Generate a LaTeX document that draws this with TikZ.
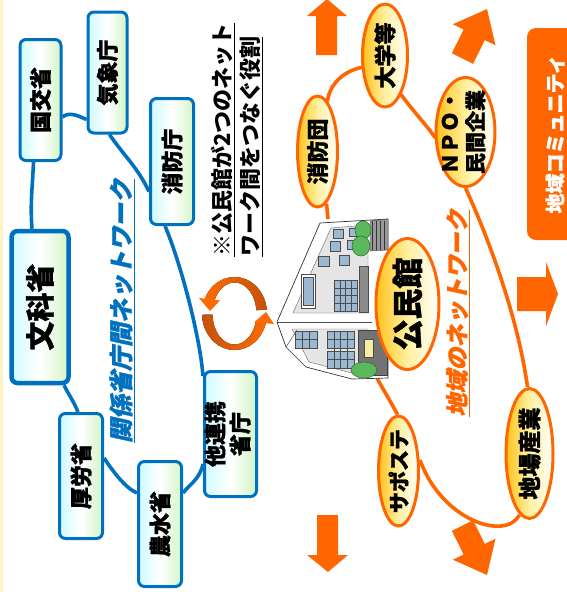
\documentclass[tikz,border=0pt]{standalone}
\usepackage{graphicx}
\usepackage{fontspec}
\usetikzlibrary{shapes.geometric,calc}
\newfontfamily\jp{Noto Sans CJK JP}[BoldFeatures={FakeBold=1.2}]
\newfontfamily\jpnote{Noto Sans CJK JP}
\newfontfamily\jpslant{Noto Sans CJK JP}[FakeSlant=0.22, BoldFeatures={FakeBold=1.2}]
\definecolor{netblue}{HTML}{0070C0}
\definecolor{netorange}{HTML}{FF6600}
\definecolor{boxcyan}{HTML}{CFFBFF}
\definecolor{boxgreen}{HTML}{D3F5C4}
\definecolor{ovgold}{HTML}{FFC21A}
\definecolor{ovpale}{HTML}{FFF0A0}
\definecolor{ringdark}{HTML}{C4520C}
\definecolor{ringbright}{HTML}{FF6A00}
\definecolor{winblue}{HTML}{9CB8D2}
\definecolor{treegreen}{HTML}{5CB85C}
\definecolor{treedark}{HTML}{2E6B2E}
\definecolor{doorpale}{HTML}{F4EFA0}
\definecolor{edgeyellow}{HTML}{FFF3C4}
\pgfdeclarelayer{paper}
\pgfdeclarelayer{links}
\pgfsetlayers{paper,links,main}
\newcommand{\vtxt}[1]{\rotatebox{90}{#1}}

\begin{document}
\begin{tikzpicture}[x=1pt,y=-1pt,
  ministry/.style={rectangle, rounded corners=6pt, draw=netblue, line width=3pt,
    left color=boxcyan, right color=boxgreen, middle color=white, inner sep=0pt,
    font=\jp\bfseries\fontsize{22}{27}\selectfont},
  local/.style={ellipse, draw=netorange, line width=3pt,
    left color=ovgold, right color=white, middle color=ovpale, inner sep=-14pt,
    font=\jp\bfseries\fontsize{22}{26}\selectfont},
  bluelink/.style={draw=netblue, line width=3.6pt},
  orangelink/.style={draw=netorange, line width=3.6pt},
  blockarrow/.style={fill=netorange},
  glass/.style={fill=winblue, draw=black!70, line width=0.4pt},
  panel/.style={fill=black!10, draw=black!60, line width=0.4pt},
  tree/.style={fill=treegreen, draw=treedark, line width=0.5pt},
]
\useasboundingbox (0,0) rectangle (567,592);
\begin{pgfonlayer}{paper}
\fill[white] (0,0) rectangle (567,592);
\fill[edgeyellow] (0,0) rectangle (2.5,592);
\end{pgfonlayer}

% ---------- ministries network ----------
\node[ministry, minimum width=57pt, minimum height=152pt, line width=4.5pt,
      font=\jp\bfseries\fontsize{29}{32}\selectfont] (mext) at (40,307) {\vtxt{文科省}};
\node[ministry, minimum width=41pt, minimum height=121pt] (mlit) at (40.5,100) {\vtxt{国交省}};
\node[ministry, minimum width=39pt, minimum height=121pt] (jma) at (107.5,72.5) {\vtxt{気象庁}};
\node[ministry, minimum width=43pt, minimum height=126pt] (fdma) at (172,161.5) {\vtxt{消防庁}};
\node[ministry, minimum width=52pt, minimum height=125pt] (others) at (230.5,434)
  {\vtxt{\begin{tabular}{@{}c@{}}他連携\\[-2pt]省庁\end{tabular}}};
\node[ministry, minimum width=43pt, minimum height=125pt] (maff) at (160,524) {\vtxt{農水省}};
\node[ministry, minimum width=43pt, minimum height=125pt] (mhlw) at (81,476) {\vtxt{厚労省}};

\node[inner sep=0pt, text=netblue, font=\jpslant\bfseries\fontsize{24}{26}\selectfont]
  (govnet) at (122,311) {\vtxt{\underline{関係省庁間ネットワーク}}};

% ---------- note ----------
\node[inner sep=0pt, font=\jpnote\bfseries\fontsize{22}{28}\selectfont] (note) at (238.5,140)
  {\vtxt{\begin{tabular}{@{}l@{}}\underline{※公民館が2つのネット}\\\underline{ワーク間をつなぐ役割}\end{tabular}}};

% ---------- circular arrows ----------
\fill[left color=ringbright, middle color=ringbright, right color=ringdark]
  plot[domain=6:157, samples=40] ({234.5+32.5*cos(\x)},{313.5-36.5*sin(\x)})
  -- plot[domain=157:6, samples=40] ({234.5+22*cos(\x)},{313.5-31*sin(\x)}) -- cycle;
\fill[ringbright] (199,298) -- (220,300.5) -- (210,311) -- cycle;
\fill[left color=ringdark, middle color=ringbright, right color=ringbright]
  plot[domain=182:345, samples=40] ({234.5+32.5*cos(\x)},{313.5-36.5*sin(\x)})
  -- plot[domain=345:182, samples=40] ({234.5+22*cos(\x)},{313.5-31*sin(\x)}) -- cycle;
\fill[ringbright] (254.5,322) -- (274,324) -- (266,312) -- cycle;

% ---------- community hall building ----------
\filldraw[fill=white, draw=black!80, line width=0.7pt, line join=round]
  (320,223) -- (388,219) -- (388,378) -- (352,379) -- (306,367) -- (286,347) -- (277,322) -- cycle;
\filldraw[panel] (331,228) -- (368,225) -- (368,313) -- (293,313) -- cycle;
\filldraw[panel] (292,329) -- (368,329) -- (368,372) -- (352,373) -- (309,362) -- cycle;
\draw[black!70, line width=0.5pt] (277,322) -- (372,322);
\draw[black!70, line width=0.5pt] (286,347) -- (297,330);
\foreach \x/\y/\w/\h in {333/229/10/9, 349/228/9/8, 330/241/10/10, 347/240/9/9,
                         318/256/11/10, 339/255/10/10}
  \filldraw[glass] (\x,\y) rectangle ++(\w,\h);
\filldraw[fill=white, draw=black!70, line width=0.4pt] (301,274) rectangle (315,308);
\filldraw[glass] (303,277) rectangle (313,305);
\filldraw[glass] (334,280) rectangle (357,311);
\foreach \k in {1,2,3} \draw[black!70, line width=0.4pt] ({334+5.75*\k},280) -- ({334+5.75*\k},311);
\foreach \k in {1,2,3} \draw[black!70, line width=0.4pt] (334,{280+7.75*\k}) -- (357,{280+7.75*\k});
\filldraw[fill=black!45, draw=black!70, line width=0.4pt] (359,266) rectangle (368,312);
\foreach \x/\y/\w/\h in {295/331/22/17, 327/331/27/17, 327/351/27/17}
  \filldraw[glass] (\x,\y) rectangle ++(\w,\h);
\foreach \k in {1,2,3} \draw[black!70, line width=0.4pt] ({327+6.75*\k},331) -- ({327+6.75*\k},368);
\foreach \k in {1,2} \draw[black!70, line width=0.4pt] ({295+7.33*\k},331) -- ({295+7.33*\k},348);
\draw[black!70, line width=0.4pt] (295,339.5) -- (317,339.5) (327,339.5) -- (354,339.5) (327,359.5) -- (354,359.5);
\filldraw[fill=black!55, draw=black!75, line width=0.4pt] (358,330) rectangle (387,375);
\filldraw[fill=doorpale, draw=black!70, line width=0.4pt] (364,339) rectangle (373,357);
\filldraw[fill=black!40, draw=black!75, line width=0.4pt] (370,221) -- (388,219) -- (388,250) -- (370,251) -- cycle;
\foreach \k in {0,1,2,3} \draw[black!80, line width=0.4pt] ({372+4*\k},221) -- ({372+4*\k},250);
\filldraw[tree] (363,230) ellipse [x radius=8, y radius=9];
\filldraw[tree] (361,246) ellipse [x radius=9, y radius=10];
\filldraw[tree] (364,370) ellipse [x radius=13, y radius=8];
\coordinate (bldtop) at (328,219);
\coordinate (bldfoot) at (377,378);

% ---------- local network ----------
\node[local, minimum width=40pt, minimum height=111pt] (fire) at (317.5,151.5) {\vtxt{消防団}};
\node[local, minimum width=45pt, minimum height=103pt] (univ) at (385,55.5) {\vtxt{大学等}};
\node[local, minimum width=59pt, minimum height=109pt,
      font=\jp\bfseries\fontsize{21}{25}\selectfont] (npo) at (465.5,132)
  {\vtxt{\begin{tabular}{@{}c@{}}ＮＰＯ・\\民間企業\end{tabular}}};
\node[local, minimum width=63pt, minimum height=131pt,
      font=\jp\bfseries\fontsize{31}{34}\selectfont] (hall) at (407.5,304) {\vtxt{公民館}};
\node[local, minimum width=40pt, minimum height=110pt,
      font=\jp\bfseries\fontsize{21}{25}\selectfont] (sapo) at (398.5,471) {\vtxt{サポステ}};
\node[local, minimum width=47pt, minimum height=130pt,
      font=\jp\bfseries\fontsize{23}{26}\selectfont] (industry) at (529.5,453.5) {\vtxt{地場産業}};

\node[inner sep=0pt, text=netorange, font=\jpslant\bfseries\fontsize{23}{26}\selectfont]
  (localnet) at (458,313) {\vtxt{\underline{地域のネットワーク}}};

\node[rectangle, rounded corners=9pt, fill=netorange, minimum width=56pt, minimum height=212pt,
      inner sep=0pt, text=white, font=\jp\bfseries\fontsize{20}{24}\selectfont]
  (community) at (555,134) {\vtxt{地域コミュニティ}\hspace{16pt}};

% ---------- block arrows ----------
\fill[blockarrow] (316,55) -- (316,16) -- (307,16) -- (327,-1) -- (347,16) -- (337,16) -- (337,55) -- cycle;
\fill[blockarrow] (317,515) -- (338,515) -- (338,555) -- (348,555) -- (328,572) -- (307,555) -- (317,555) -- cycle;
\fill[blockarrow] (517,277) -- (546,277) -- (546,262) -- (558,294) -- (546,326) -- (546,311) -- (517,311) -- cycle;
\fill[blockarrow] (451.9,53.2) -- (473.1,63.8) -- (484.8,40.1) -- (495.5,45.3) -- (487,9)
  -- (452.9,24.3) -- (463.6,29.5) -- cycle;
\fill[blockarrow] (451.9,530.8) -- (473.1,520.2) -- (484.8,543.9) -- (495.5,538.7) -- (487,575)
  -- (452.9,559.7) -- (463.6,554.5) -- cycle;

% ---------- connectors ----------
\begin{pgfonlayer}{links}
\draw[bluelink] ($(mext.north)+(-8,0)$) .. controls +(-2,-25) and +(-1,25) .. ($(mlit.south)+(-7,0)$);
\draw[bluelink] ($(mlit.east)+(0,17)$) .. controls +(7,-6) and +(-7,-3) .. ($(jma.west)+(0,47)$);
\draw[bluelink] ($(jma.south)+(2,0)$) .. controls +(15,22) and +(-12,-25) .. ($(fdma.west)+(0,30)$);
\draw[bluelink] ($(fdma.south)+(-7,0)$) .. controls +(15,35) and +(-3,-40) .. ($(others.west)+(0,-58)$);
\draw[bluelink] ($(others.west)+(0,30)$) .. controls +(-3,15) and +(6,-8) .. ($(maff.east)+(0,-31)$);
\draw[bluelink] ($(maff.west)+(0,-31)$) .. controls +(-12,-5) and +(8,12) .. ($(mhlw.east)+(0,-18)$);
\draw[bluelink] ($(mhlw.north)+(-3,0)$) .. controls +(-4,-10) and +(4,8) .. ($(mext.south)+(24,0)$);

\draw[orangelink] ($(fire.north)+(10,7)$) .. controls +(2,-20) and +(-14,2) .. ($(univ.west)+(1,12)$);
\draw[orangelink] ($(univ.south)+(16,-14)$) .. controls +(10,14) and +(-10,-14) .. ($(npo.west)+(1,6)$);
\draw[orangelink] (npo.south) .. controls +(24.5,53.5) and +(-9.5,-68.5) .. ($(industry.north)+(-2,0)$);
\draw[orangelink] ($(industry.south)+(-10,-5)$) .. controls +(-14.5,26.5) and +(21.5,60) .. ($(sapo.east)+(0,-11)$);
\draw[orangelink] ($(sapo.north)+(-1,0)$) .. controls +(-8,-15) and +(4,8) .. (bldfoot);
\draw[orangelink] ($(fire.south)+(9,-5)$) -- (bldtop);
\end{pgfonlayer}
\end{tikzpicture}
\end{document}
